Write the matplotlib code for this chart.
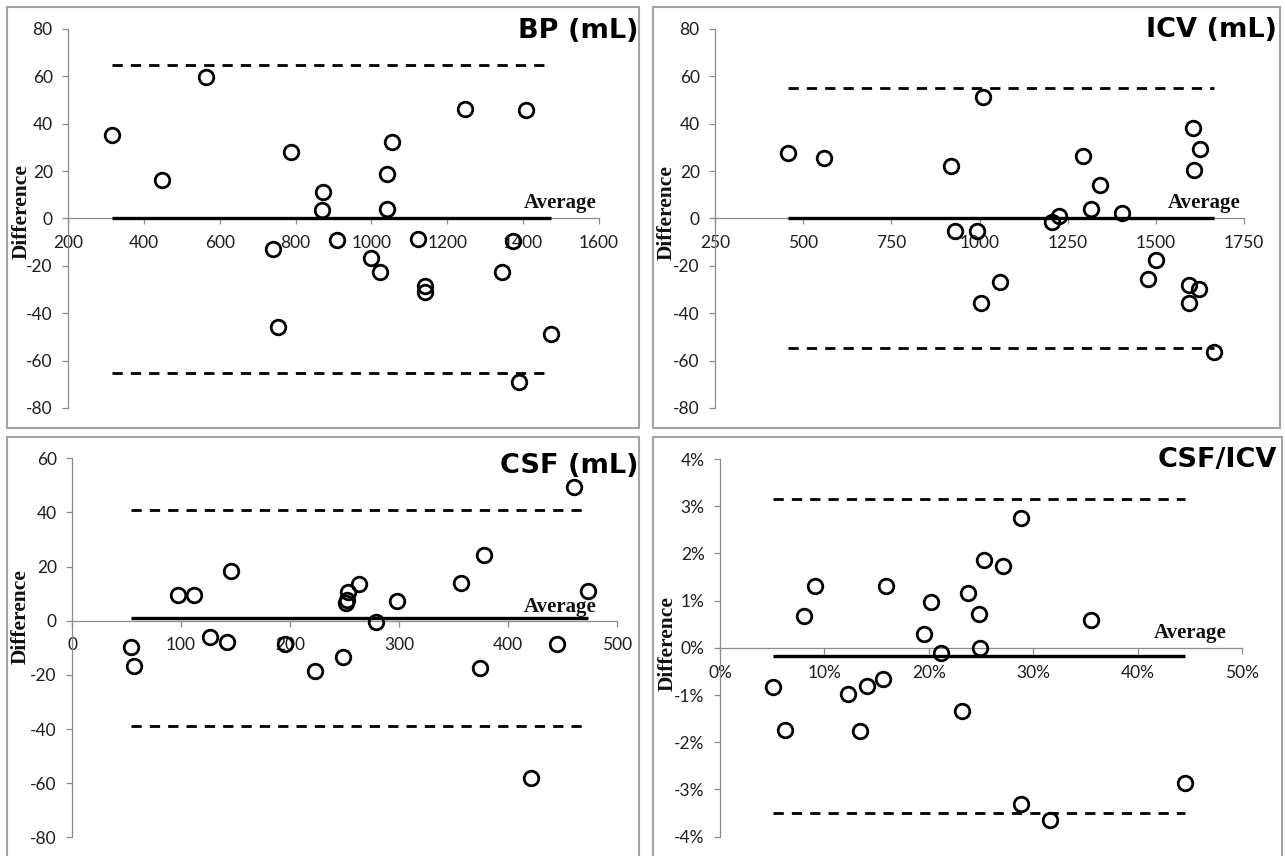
import matplotlib
matplotlib.use("Agg")
import matplotlib.pyplot as plt
from matplotlib.patches import Rectangle
from matplotlib.ticker import FuncFormatter, MultipleLocator

plt.rcParams['axes.unicode_minus'] = False

# ---------------- data ----------------
bp_avg = [315, 448, 563, 741, 754, 789, 873, 870, 910, 999, 1022, 1040, 1042, 1053,
          1122, 1142, 1142, 1248, 1344, 1372, 1408, 1390, 1474]
bp_diff = [35.1, 16.3, 59.7, -12.7, -45.9, 28.0, 11.1, 3.4, -9.0, -16.6, -22.7, 18.7, 3.8, 32.1,
           -8.6, -28.5, -31.0, 46.2, -22.5, -9.6, 45.8, -69.0, -48.6]
bp_limits = [65.0, -65.4]
bp_mean = 0.0

icv_avg = [457, 560, 919, 930, 992, 1009, 1005, 1057, 1206, 1225, 1293, 1317, 1342, 1405,
           1477, 1501, 1606, 1607, 1626, 1593, 1593, 1623, 1664]
icv_diff = [27.5, 25.6, 22.1, -5.1, -5.4, 51.4, -35.6, -26.9, -1.5, 1.0, 26.2, 3.9, 14.1, 2.4,
            -25.5, -17.7, 38.0, 20.3, 29.4, -27.9, -35.6, -29.6, -56.3]
icv_limits = [54.9, -54.6]
icv_mean = 0.3

csf_avg = [53.8, 56.5, 97.7, 112.3, 126.5, 142, 146, 195, 223, 249, 251, 252, 253, 263,
           279, 298, 356.5, 374.6, 378, 420.8, 445, 461, 473]
csf_diff = [-9.8, -16.6, 9.4, 9.4, -6.0, -7.8, 18.5, -8.5, -18.6, -13.3, 6.4, 7.8, 10.5, 13.4,
            -0.6, 7.3, 13.9, -17.5, 24.1, -58.2, -8.6, 49.4, 11.0]
csf_limits = [40.9, -38.9]
csf_mean = 0.9

ratio_avg = [5.1, 6.2, 8.06, 9.09, 12.25, 13.4, 14.1, 15.6, 15.9, 19.5, 20.2, 21.2, 23.2, 23.8,
             24.8, 24.9, 25.3, 27.1, 28.8, 28.8, 31.6, 35.5, 44.5]
ratio_diff = [-0.83, -1.75, 0.685, 1.30, -0.98, -1.77, -0.80, -0.67, 1.30, 0.30, 0.98, -0.11,
              -1.33, 1.16, 0.71, 0.0, 1.86, 1.74, 2.75, -3.30, -3.64, 0.60, -2.86]
ratio_limits = [3.15, -3.50]
ratio_mean = -0.18

titles = ["BP (mL)", "ICV (mL)", "CSF (mL)", "CSF/ICV"]

# ---------------- figure ----------------
W, H = 1285, 856
fig = plt.figure(figsize=(W / 100, H / 100), dpi=100)

BORDER = '#a3a3a3'
SPINE = '#8c8c8c'
TICKFONT = ['Lato', 'DejaVu Sans']
SERIF = ['Liberation Serif', 'DejaVu Serif']


def px_axes(l, r, t, b):
    return fig.add_axes([l / W, 1 - b / H, (r - l) / W, (b - t) / H])


def border(l, r, t, b):
    fig.add_artist(Rectangle((l / W, 1 - b / H), (r - l) / W, (b - t) / H,
                             transform=fig.transFigure, fill=False,
                             ec=BORDER, lw=1.5, zorder=0))


panels = [
    dict(pos=(68, 599, 29, 408), x=bp_avg, y=bp_diff, lim=bp_limits, mean=bp_mean,
         xlim=(200, 1600), xstep=200, ylim=(-80, 80), ystep=20, pct=False,
         title_xy=(638, 31), title_ha='right', avg_xy=(597, 203),
         diff_xy=(22, 212), frame=(7, 639, 7, 428)),
    dict(pos=(715, 1244, 29, 408), x=icv_avg, y=icv_diff, lim=icv_limits, mean=icv_mean,
         xlim=(250, 1750), xstep=250, ylim=(-80, 80), ystep=20, pct=False,
         title_xy=(1277, 30), title_ha='right', avg_xy=(1241, 203),
         diff_xy=(667, 213), frame=(653, 1280, 7, 428)),
    dict(pos=(72, 617, 458.3, 837.3), x=csf_avg, y=csf_diff, lim=csf_limits, mean=csf_mean,
         xlim=(0, 500), xstep=100, ylim=(-80, 60), ystep=20, pct=False,
         title_xy=(639, 466), title_ha='right', avg_xy=(597, 607),
         diff_xy=(21, 617), frame=(7, 639, 437, 870)),
    dict(pos=(720, 1242, 459, 836.7), x=ratio_avg, y=ratio_diff, lim=ratio_limits, mean=ratio_mean,
         xlim=(0, 50), xstep=10, ylim=(-4, 4), ystep=1, pct=True,
         title_xy=(1158, 460), title_ha='left', avg_xy=(1227, 633),
         diff_xy=(668, 644), frame=(653, 1282, 437, 870)),
]

for p, title in zip(panels, titles):
    border(*p['frame'])
    ax = px_axes(*p['pos'])
    ax.patch.set_alpha(0)
    ax.set_xlim(*p['xlim'])
    ax.set_ylim(*p['ylim'])
    for s in ('top', 'right'):
        ax.spines[s].set_visible(False)
    ax.spines['bottom'].set_position(('data', 0))
    for s in ('left', 'bottom'):
        ax.spines[s].set_color(SPINE)
        ax.spines[s].set_linewidth(0.9)
    ax.xaxis.set_major_locator(MultipleLocator(p['xstep']))
    ax.yaxis.set_major_locator(MultipleLocator(p['ystep']))
    if p['pct']:
        fmt = FuncFormatter(lambda v, pos: f"{v:.0f}%")
        ax.xaxis.set_major_formatter(fmt)
        ax.yaxis.set_major_formatter(fmt)
    ax.tick_params(axis='both', direction='out', length=4.5, width=0.9, color=SPINE,
                   labelsize=12.5, labelcolor='#1e1e1e')
    ax.tick_params(axis='y', pad=6.5)
    ax.tick_params(axis='x', pad=7.5)
    for lab in ax.get_xticklabels() + ax.get_yticklabels():
        lab.set_fontfamily(TICKFONT)

    xmin, xmax = min(p['x']), max(p['x'])
    for lv in p['lim']:
        ax.plot([xmin, xmax], [lv, lv], color='black', lw=2.0,
                linestyle=(0, (3.7, 2.9)), zorder=3, clip_on=False)
    ax.plot([xmin, xmax], [p['mean'], p['mean']], color='black', lw=2.4,
            solid_capstyle='butt', zorder=3, clip_on=False)
    ax.plot(p['x'], p['y'], linestyle='none', marker='o', ms=10.5, mfc='none',
            mec='black', mew=2.0, zorder=4, clip_on=False)

    tx, ty = p['title_xy']
    fig.text(tx / W, 1 - ty / H, title, ha=p['title_ha'], va='center',
             fontsize=19.5, fontweight='bold', family=['DejaVu Sans'], color='black')
    axx, axy = p['avg_xy']
    fig.text(axx / W, 1 - axy / H, 'Average', ha='right', va='center',
             fontsize=15, fontweight='bold', family=SERIF, color='#111111')
    dx, dy = p['diff_xy']
    fig.text(dx / W, 1 - dy / H, 'Difference', ha='center', va='center', rotation=90,
             fontsize=15.5, fontweight='bold', family=SERIF, color='#111111')

fig.savefig('out.png', dpi=100)
